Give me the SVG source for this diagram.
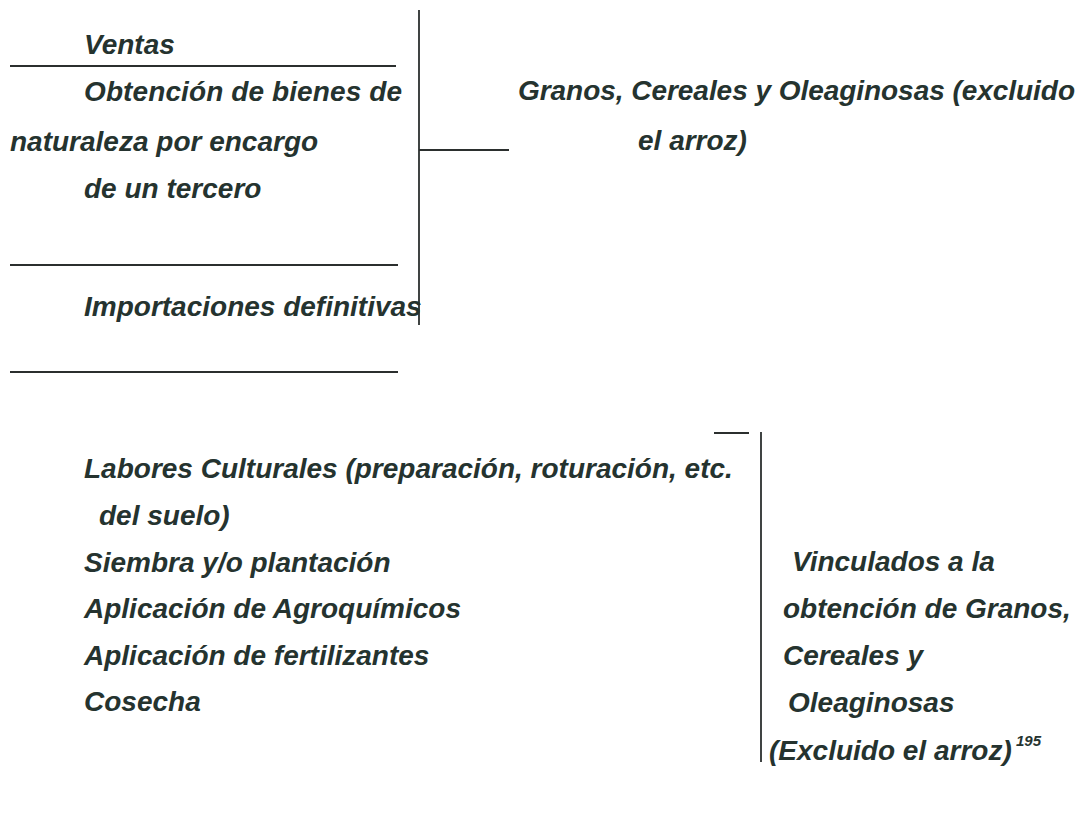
<svg xmlns="http://www.w3.org/2000/svg" width="1083" height="816" viewBox="0 0 1083 816">
<style>
  text { font-family: "Liberation Sans", Arial, sans-serif; font-weight: bold; font-style: italic; font-size: 28px; fill: #25332f; }
  .sup { font-size: 15px; }
  line { stroke: #2b2f2e; stroke-width: 1.8; }
</style>
<rect width="1083" height="816" fill="#ffffff"/>
<g id="connectors">
  <line x1="10" y1="66" x2="396" y2="66"/>
  <line x1="10" y1="265" x2="398" y2="265"/>
  <line x1="10" y1="372" x2="398" y2="372"/>
  <line x1="419" y1="10" x2="419" y2="325"/>
  <line x1="419" y1="150" x2="509" y2="150"/>
  <line x1="714" y1="433" x2="749" y2="433"/>
  <line x1="761" y1="432" x2="761" y2="762"/>
</g>
<g id="ventas"><text x="84" y="54">Ventas</text></g>
<g id="obtencion">
  <text x="84" y="101" textLength="318" lengthAdjust="spacing">Obtención de bienes de</text>
  <text x="10" y="151">naturaleza por encargo</text>
  <text x="84" y="198">de un tercero</text>
</g>
<g id="importaciones"><text x="84" y="316">Importaciones definitivas</text></g>
<g id="granos">
  <text x="518" y="100" textLength="557" lengthAdjust="spacing">Granos, Cereales y Oleaginosas (excluido</text>
  <text x="638" y="150">el arroz)</text>
</g>
<g id="labores">
  <text x="84" y="478">Labores Culturales (preparación, roturación, etc.</text>
  <text x="99" y="525">del suelo)</text>
  <text x="84" y="572">Siembra y/o plantación</text>
  <text x="84" y="618">Aplicación de Agroquímicos</text>
  <text x="84" y="665">Aplicación de fertilizantes</text>
  <text x="84" y="711">Cosecha</text>
</g>
<g id="vinculados">
  <text x="792" y="571">Vinculados a la</text>
  <text x="783" y="618">obtención de Granos,</text>
  <text x="783" y="665">Cereales y</text>
  <text x="788" y="712">Oleaginosas</text>
  <text x="769" y="760">(Excluido el arroz)</text>
  <text class="sup" x="1016" y="746">195</text>
</g>
</svg>
